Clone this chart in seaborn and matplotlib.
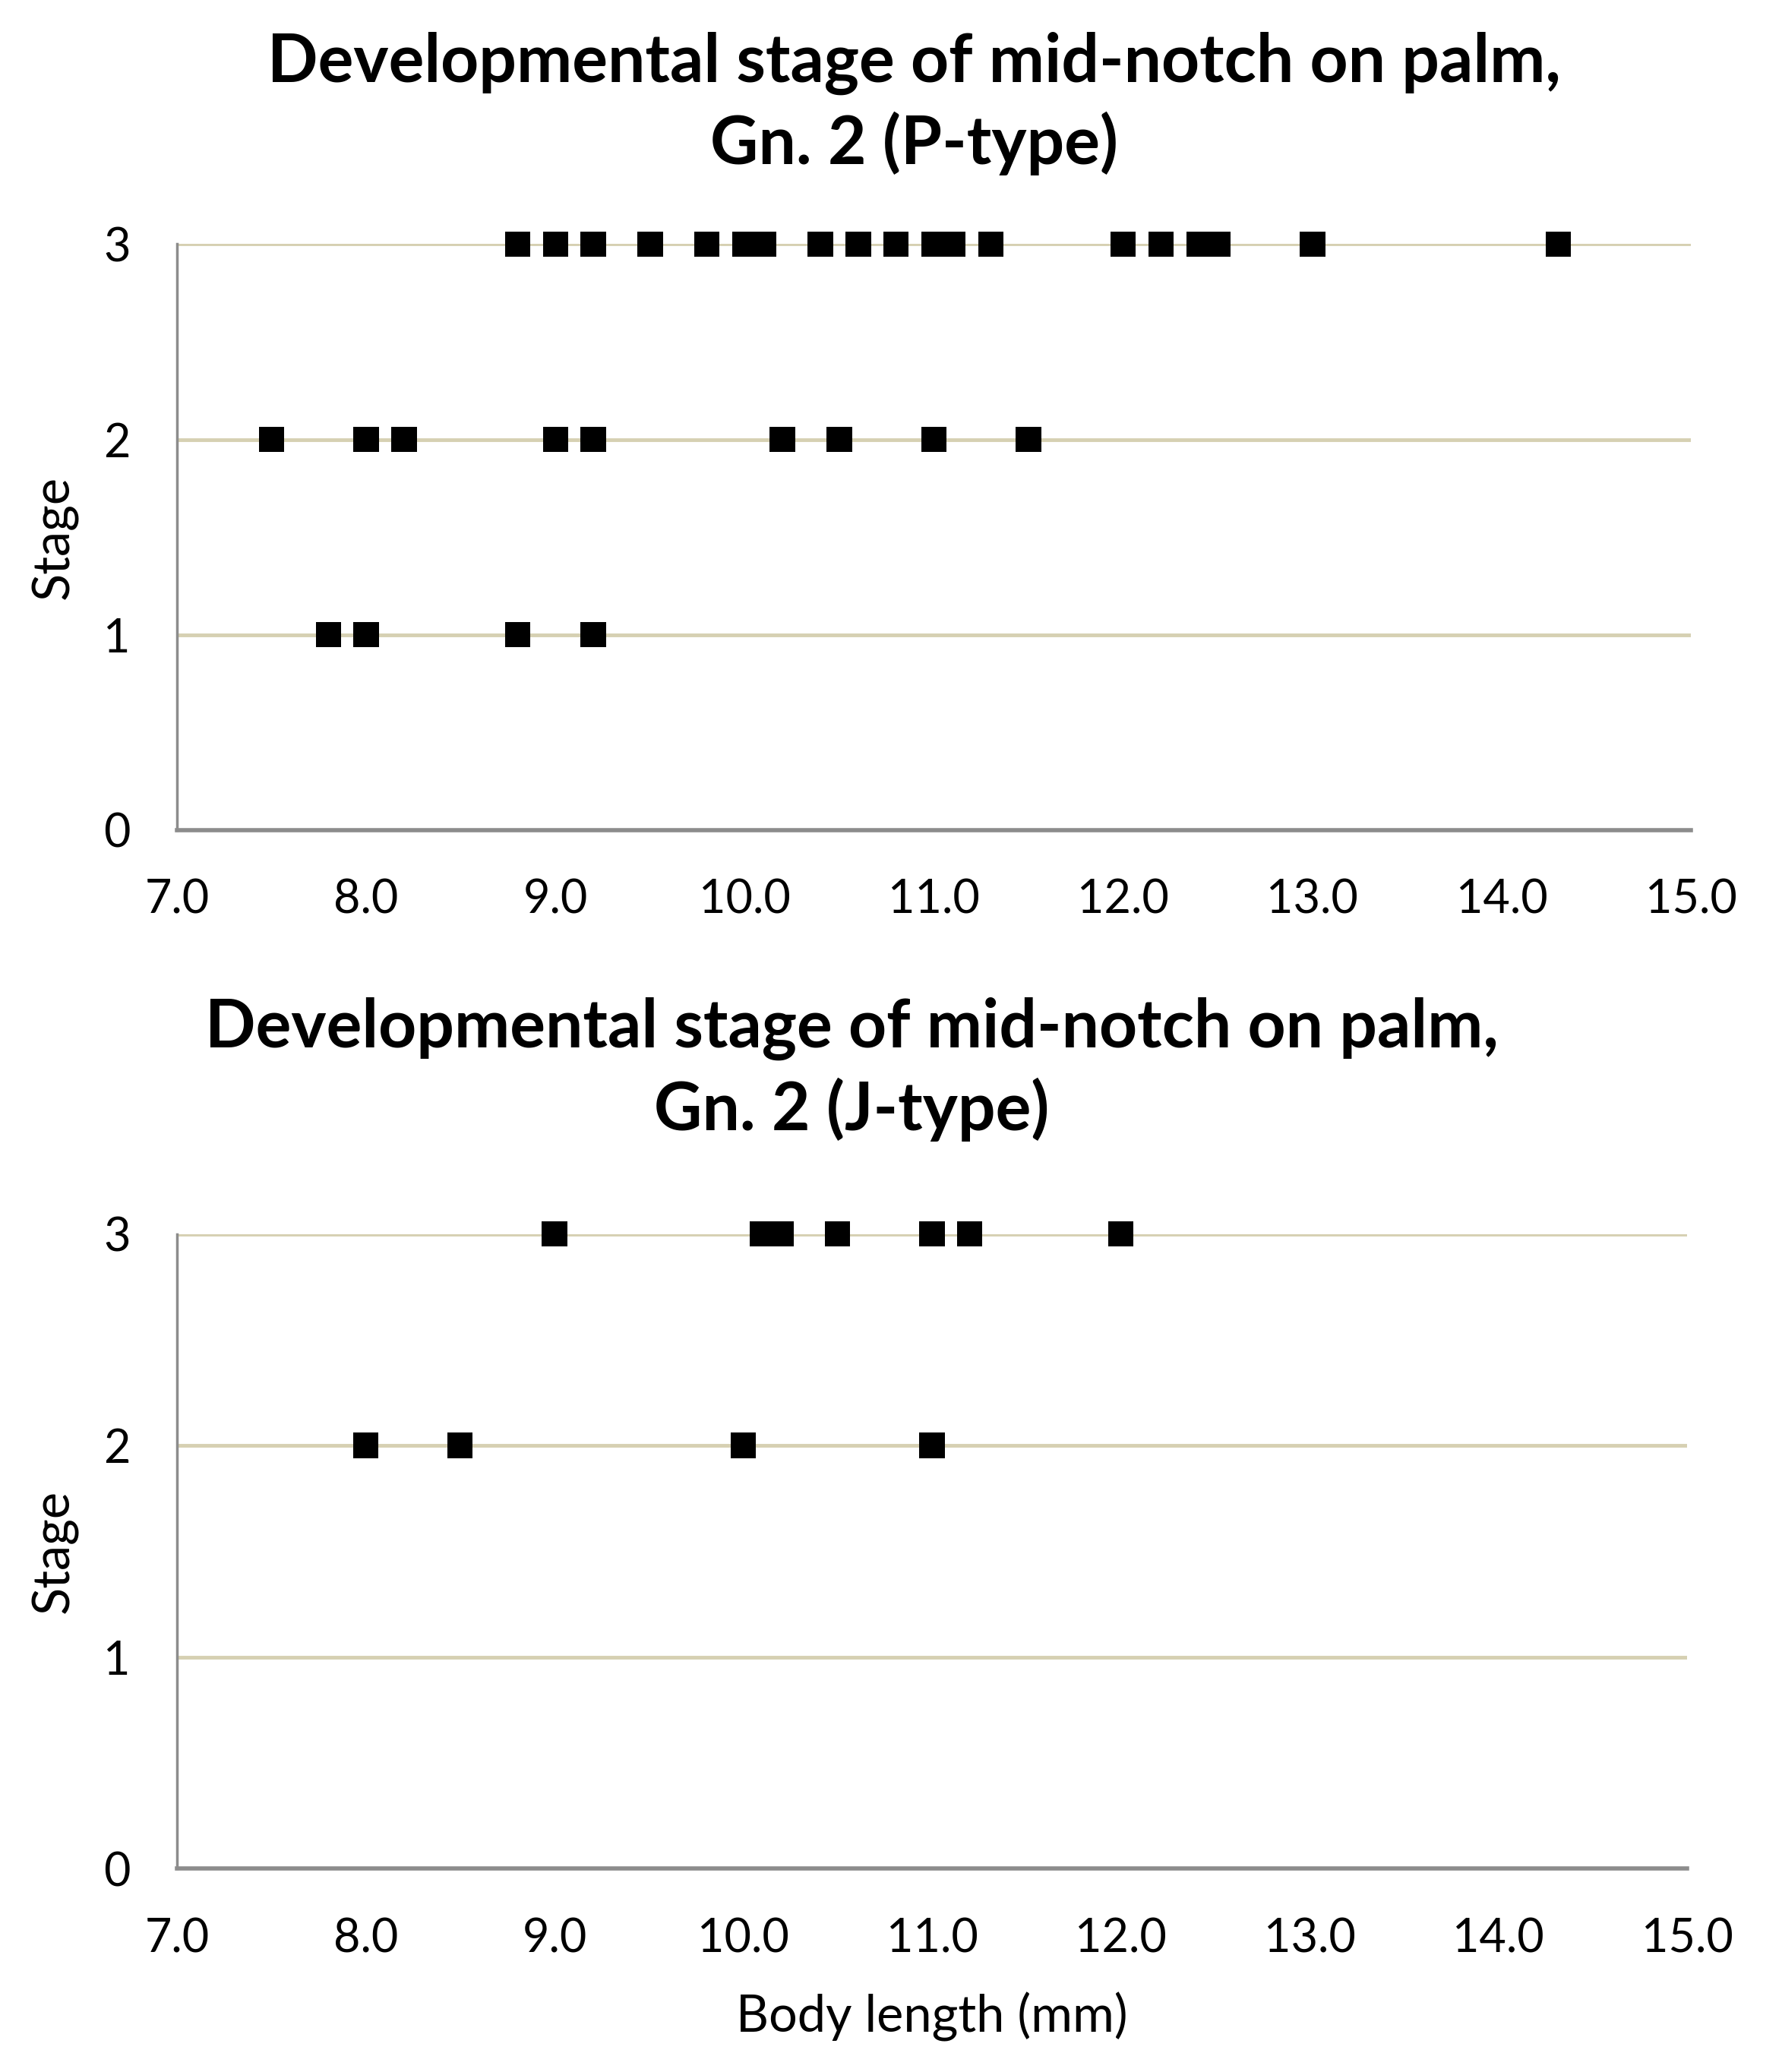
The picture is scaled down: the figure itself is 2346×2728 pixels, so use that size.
import numpy as np
import pandas as pd
import matplotlib
matplotlib.use("Agg")
import matplotlib.pyplot as plt
import seaborn as sns

# body length (mm) for each stage
p_stage3 = [8.8, 9.0, 9.2, 9.5, 9.8, 10.0, 10.1, 10.4, 10.6, 10.8, 11.0, 11.1, 11.3,
            12.0, 12.2, 12.4, 12.5, 13.0, 14.3]
p_stage2 = [7.5, 8.0, 8.2, 9.0, 9.2, 10.2, 10.5, 11.0, 11.5]
p_stage1 = [7.8, 8.0, 8.8, 9.2]

j_stage3 = [9.0, 10.1, 10.2, 10.5, 11.0, 11.2, 12.0]
j_stage2 = [8.0, 8.5, 10.0, 11.0]

x_ticks = [7.0, 8.0, 9.0, 10.0, 11.0, 12.0, 13.0, 14.0, 15.0]
y_ticks = [0, 1, 2, 3]

titles = ["Developmental stage of mid-notch on palm,\nGn. 2 (P-type)",
          "Developmental stage of mid-notch on palm,\nGn. 2 (J-type)"]


def make_df(groups):
    rows = []
    for stage, vals in groups.items():
        for v in vals:
            rows.append({"length": v, "stage": stage})
    return pd.DataFrame(rows)


p_df = make_df({3: p_stage3, 2: p_stage2, 1: p_stage1})
j_df = make_df({3: j_stage3, 2: j_stage2})

sns.set_style("white")
plt.rcParams['font.family'] = ['Lato', 'DejaVu Sans']
plt.rcParams['text.color'] = 'black'
plt.rcParams['axes.labelcolor'] = 'black'

W, H = 2346, 2728
fig = plt.figure(figsize=(W / 100, H / 100), dpi=100)

grid_col = "#D6D0B2"
spine_col = "#8C8C8C"


def style_axis(ax, data):
    sns.scatterplot(data=data, x="length", y="stage", marker="s", s=580,
                    color="black", edgecolor="none", ax=ax, zorder=3, clip_on=False)
    ax.set_xlim(7.0, 15.0)
    ax.set_ylim(0, 3)
    ax.set_xticks(x_ticks)
    ax.set_xticklabels([f"{t:.1f}" for t in x_ticks])
    ax.set_yticks(y_ticks)
    for yv in [1, 2, 3]:
        ax.axhline(yv, color=grid_col, lw=3.5, zorder=1)
    for s in ["top", "right"]:
        ax.spines[s].set_visible(False)
    ax.spines["left"].set_color(spine_col)
    ax.spines["left"].set_linewidth(2.5)
    ax.spines["bottom"].set_color(spine_col)
    ax.spines["bottom"].set_linewidth(4)
    ax.tick_params(axis="both", direction="out", length=16, width=2,
                   color=spine_col, labelsize=44, labelcolor="black")
    ax.tick_params(axis="x", pad=30)
    ax.tick_params(axis="y", pad=28)
    ax.set_ylabel("Stage", fontsize=48, labelpad=24)


ax1 = fig.add_axes([0.0993, 0.5994, 0.8496, 0.2828])
style_axis(ax1, p_df)
ax1.set_xlabel("")

ax2 = fig.add_axes([0.0993, 0.0981, 0.8474, 0.3064])
style_axis(ax2, j_df)
ax2.set_xlabel("Body length (mm)", fontsize=48, labelpad=30)

fig.text(0.513, 1 - 0.050, titles[0], ha="center", va="center", fontsize=63,
         fontweight="bold", linespacing=1.32)
fig.text(0.478, 1 - 0.516, titles[1], ha="center", va="center", fontsize=63,
         fontweight="bold", linespacing=1.32)

fig.savefig("out.png", dpi=100, facecolor="white")
